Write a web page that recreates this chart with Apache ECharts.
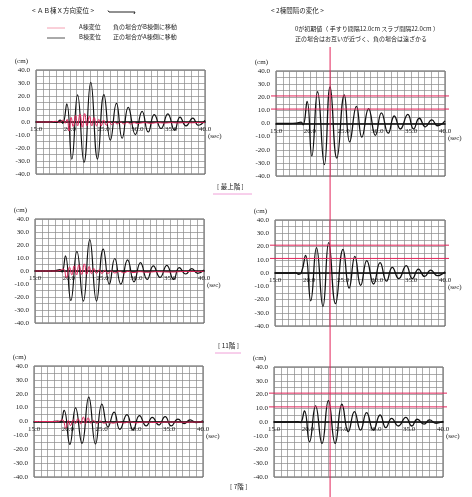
<!DOCTYPE html>
<html><head><meta charset="utf-8">
<script src="https://cdn.jsdelivr.net/npm/echarts@6/dist/echarts.min.js"></script>
<style>html,body{margin:0;padding:0;background:#fff}#c{width:472px;height:497px}</style>
</head><body><div id="c"></div>
<script>
// ---- data: [time (sec), displacement (cm)] ----
const X_TICKS = [15, 20, 25, 30, 35, 40];
const Y_TICKS = [40, 30, 20, 10, 0, -10, -20, -30, -40];
const GAP_LINES = [21, 11];          // red reference lines in the right plots
const MARK_TIME = 23.0;               // red vertical line in the right plots

// 最上階
const TOP_A = [[15,0],[17,0],[18,0.5],[18.5,-0.5],[19.0,1.5],[19.3,-1],[19.6,2],[19.9,-7],[20.2,3.5],[20.5,-3.5],[20.85,5],[21.15,-3],[21.5,6],[21.85,-4],[22.2,6.5],[22.55,-3],[22.9,4.5],[23.25,-3],[23.6,3.5],[23.95,-3],[24.3,2],[24.65,-3],[25.0,1.5],[25.4,-2.5],[25.8,0.5],[26.2,-2],[26.6,0],[27,-1.5],[27.5,0],[28,-1.5],[28.5,-0.3],[29,-1.5],[29.5,-0.5],[30,-1.2],[31,-0.5],[32,-1],[33,-0.5],[34,-0.8],[35,-0.5],[36,-0.7],[37,-0.5],[38,-0.6],[39,-0.4],[40,-0.5]];
const TOP_B = [[15,0],[16.5,0],[17.5,0.3],[18,-0.3],[18.6,1.5],[18.95,-1],[19.55,14],[20.3,-28.5],[21.15,20.8],[22.1,-31],[23.1,30.5],[24.1,-28.5],[25.05,21],[26.0,-14],[26.9,14.4],[27.75,-12.5],[28.65,11.3],[29.7,-9.7],[30.7,8.2],[31.6,-7.7],[32.5,5.6],[33.5,-5],[34.5,6.2],[35.5,-6.3],[36.3,3.8],[37.2,-3],[38.2,3],[39.0,-2.5],[40,1.3]];
const TOP_GAP = [[15,0],[17,0],[18,0.3],[18.7,1],[19.0,-1],[19.6,16.8],[20.3,-24.7],[21.15,24.2],[22.15,-31.4],[23.0,27.9],[24.0,-26.4],[25.1,21.7],[25.9,-14],[26.9,13],[27.7,-10.4],[28.7,11.4],[29.7,-9.1],[30.6,8.1],[31.6,-7.4],[32.5,5.7],[33.4,-4.2],[34.5,6.9],[35.35,-4.2],[36.2,4],[37.1,-2.5],[38.05,2.7],[38.9,-1.7],[40,2]];

// 11階
const F11_A = [[15,0],[18,0],[18.7,0.5],[19.2,1.5],[19.65,-5],[20.1,3],[20.45,-3],[20.8,4],[21.15,-3],[21.5,4.7],[21.9,-2.6],[22.3,5.5],[22.65,-2.5],[23.0,3.5],[23.35,-2],[23.7,2],[24.1,-2],[24.5,1],[24.9,-2],[25.3,0.5],[25.8,-1.8],[26.3,0],[26.8,-1.5],[27.5,-0.2],[28.1,-1.4],[28.8,-0.3],[29.5,-1.2],[30.5,-0.5],[31.5,-1],[33,-0.5],[35,-0.8],[37,-0.4],[40,-0.3]];
const F11_B = [[15,0],[17,0],[18,0.3],[18.7,1],[19.0,-0.8],[19.5,11.7],[20.3,-22.6],[21.2,15.1],[22.15,-23.1],[23.1,24.2],[24.1,-23.1],[25.1,16.9],[26.0,-10.1],[26.8,9.6],[27.7,-10.1],[28.7,8.6],[29.65,-8.3],[30.6,6.5],[31.6,-6.5],[32.5,3.9],[33.5,-4.9],[34.5,4.4],[35.5,-6.5],[36.35,2.6],[37.3,-2.3],[38.2,1.8],[39.05,-1.8],[40,0.8]];
const F11_GAP = [[15,0],[17,0],[18,0.3],[18.5,-1],[18.9,0.5],[19.5,13.2],[20.25,-21],[21.1,19.2],[22.05,-25.2],[22.9,22.9],[23.9,-23.1],[25.0,17.9],[25.9,-11.4],[26.75,12.5],[27.6,-9.4],[28.5,9.4],[29.5,-8.3],[30.45,7.8],[31.4,-6.2],[32.25,4.2],[33.2,-4.2],[34.3,5.5],[35.2,-4.2],[36.1,2.9],[37.0,-2.6],[37.9,2.1],[38.9,-2],[40,1]];

// 7階
const F7_A = [[15,0],[18.5,0],[19.2,1.2],[19.7,-4.7],[20.1,0.7],[20.4,-3],[20.8,1.2],[21.15,-1.5],[21.5,2],[21.9,-1.7],[22.3,3.2],[22.65,-1.5],[23.0,2.7],[23.4,-1.2],[23.8,0.8],[24.3,-1.3],[24.8,0.3],[25.3,-1.2],[26,-0.3],[26.7,-1.2],[27.5,-0.3],[28.3,-1],[29.2,-0.3],[30,-0.9],[31.5,-0.4],[33,-0.7],[35,-0.4],[37,-0.5],[40,-0.3]];
const F7_B = [[15,0],[17.5,0],[18.5,0.3],[18.9,-0.5],[19.45,8],[20.3,-16.5],[21.15,9.8],[22.1,-15.7],[23.1,17.5],[24.1,-16.2],[25.05,12.5],[25.95,-4],[26.85,6.8],[27.7,-5.7],[28.75,5],[29.65,-6.2],[30.6,4.2],[31.6,-3.2],[32.5,3],[33.45,-2.5],[34.4,3.5],[35.3,-3.2],[36.3,1.7],[37.2,-1.5],[38.1,1.2],[39.0,-0.8],[40,0.5]];
const F7_GAP = [[15,0],[17.5,0],[18.5,0.2],[18.9,-0.4],[19.5,8],[20.25,-14.4],[21.15,11.7],[22.1,-15.6],[23.05,15.6],[24.05,-15.6],[25.05,12.9],[26.0,-7],[26.9,7.6],[27.8,-5.9],[28.7,6.8],[29.7,-5.9],[30.7,5.1],[31.55,-4.1],[32.4,2.7],[33.4,-2.9],[34.5,3.4],[35.4,-2.9],[36.2,2],[37.2,-1.5],[38.0,1.5],[39.0,-1],[40,0.5]];

const GRIDS = [
  [36, 70, 169, 104], [276, 71, 169, 105],
  [35, 219, 169, 104], [275, 220, 170, 106],
  [34, 366, 169, 111], [274, 367, 169, 110]
];
const RED = '#e2245a', BLACK = '#111';
const NUMFONT = 'Liberation Serif', JPFONT = 'Noto Sans CJK JP';

const chart = echarts.init(document.getElementById('c'), null, {renderer: 'canvas'});

const xAxes = GRIDS.map((g, i) => ({
  gridIndex: i, type: 'value', min: 15, max: 40, interval: 1, position: 'bottom',
  offset: -g[3] / 2,
  axisLine: {onZero: false, lineStyle: {color: '#000', width: 1.6}},
  axisTick: {show: false},
  axisLabel: {formatter: v => X_TICKS.includes(v) ? v.toFixed(1) : '', fontSize: 7, fontFamily: NUMFONT, color: '#222', margin: 4, showMinLabel: true, showMaxLabel: true},
  splitLine: {show: true, lineStyle: {color: '#8a8a8a', width: 0.7}},
  name: '(sec)', nameLocation: 'end', nameGap: 3,
  nameTextStyle: {fontSize: 7, fontFamily: NUMFONT, color: '#222', verticalAlign: 'top', padding: [11, 0, 0, 0]}
}));
const yAxes = GRIDS.map((g, i) => ({
  gridIndex: i, type: 'value', min: -40, max: 40, interval: 5,
  axisLine: {show: false}, axisTick: {show: false},
  axisLabel: {formatter: v => Y_TICKS.includes(v) ? v.toFixed(1) : '', fontSize: 7, fontFamily: NUMFONT, color: '#222', margin: 6},
  splitLine: {show: true, lineStyle: {color: '#8a8a8a', width: 0.7}},
  name: '(cm)', nameLocation: 'end', nameGap: 5,
  nameTextStyle: {fontSize: 7, fontFamily: NUMFONT, color: '#222', align: 'right', padding: [0, 8, 0, 0]}
}));

function line(data, idx, color, w, z) {
  return {type: 'line', xAxisIndex: idx, yAxisIndex: idx, data: data, showSymbol: false, symbol: 'none',
    smooth: 0.5, lineStyle: {color: color, width: w}, z: z, silent: true};
}
const series = [
  line(TOP_B, 0, BLACK, 1.2, 3), line(TOP_A, 0, RED, 1, 4),
  line(TOP_GAP, 1, BLACK, 1.3, 3),
  line(F11_B, 2, BLACK, 1.2, 3), line(F11_A, 2, RED, 1, 4),
  line(F11_GAP, 3, BLACK, 1.3, 3),
  line(F7_B, 4, BLACK, 1.2, 3), line(F7_A, 4, RED, 1, 4),
  line(F7_GAP, 5, BLACK, 1.3, 3)
];

const jp = (x, y, text, size) => ({type: 'text', left: x, top: y - size / 2 - 1, style: {text: text, fontSize: size, fontFamily: JPFONT, fill: '#222'}, z: 10});

const headerGraphics = [
  jp(32, 12, '< ＡＢ棟Ｘ方向変位 >', 6.5),
  {type: 'polyline', shape: {points: [[108, 10.5], [109, 12], [135, 12], [134, 14]]}, style: {stroke: '#222', lineWidth: 1, fill: null}},
  {type: 'line', shape: {x1: 47, y1: 28, x2: 65, y2: 28}, style: {stroke: '#f4a0b2', lineWidth: 1}},
  {type: 'line', shape: {x1: 47, y1: 38, x2: 65, y2: 38}, style: {stroke: '#555', lineWidth: 1}},
  jp(79, 28, 'A棟変位', 6), jp(113, 28, '負の場合がB棟側に移動', 6),
  jp(79, 38, 'B棟変位', 6), jp(113, 38, '正の場合がA棟側に移動', 6),
  jp(271, 12, '< 2棟間隔の変化 >', 6.5),
  jp(295, 30, '0が初期値（ 手すり間隔12.0cm スラブ間隔22.0cm ）', 6),
  jp(295, 40, '正の場合はお互いが近づく、負の場合は遠ざかる', 6),
  jp(217, 188, '[ 最上階 ]', 6.5),
  {type: 'line', shape: {x1: 213, y1: 194, x2: 252, y2: 194}, style: {stroke: '#f0a0d8', lineWidth: 1}},
  jp(218, 347, '[ 11階 ]', 6.5),
  {type: 'line', shape: {x1: 215, y1: 353, x2: 241, y2: 353}, style: {stroke: '#f0a0d8', lineWidth: 1}},
  jp(230, 488, '[ 7階 ]', 6.5)
];

chart.setOption({
  animation: false, backgroundColor: '#fff',
  grid: GRIDS.map(g => ({left: g[0], top: g[1], width: g[2], height: g[3], show: true, borderColor: '#555', borderWidth: 1, backgroundColor: 'transparent'})),
  xAxis: xAxes, yAxis: yAxes, series: series,
  graphic: headerGraphics
});

// reference lines in the right plots, positioned through the axes' scales
const extra = [];
[1, 3, 5].forEach(i => {
  const xl = chart.convertToPixel({xAxisIndex: i}, 15) - 5;
  const xr = chart.convertToPixel({xAxisIndex: i}, 40) + 4;
  GAP_LINES.forEach(v => {
    const y = chart.convertToPixel({yAxisIndex: i}, v);
    extra.push({type: 'line', shape: {x1: xl, y1: y, x2: xr, y2: y}, style: {stroke: RED, lineWidth: 1}, z: 20});
  });
});
const xm = chart.convertToPixel({xAxisIndex: 1}, MARK_TIME);
extra.push({type: 'line', shape: {x1: xm, y1: 47, x2: xm, y2: 497}, style: {stroke: RED, lineWidth: 1}, z: 20});
chart.setOption({graphic: headerGraphics.concat(extra)});
</script></body></html>
